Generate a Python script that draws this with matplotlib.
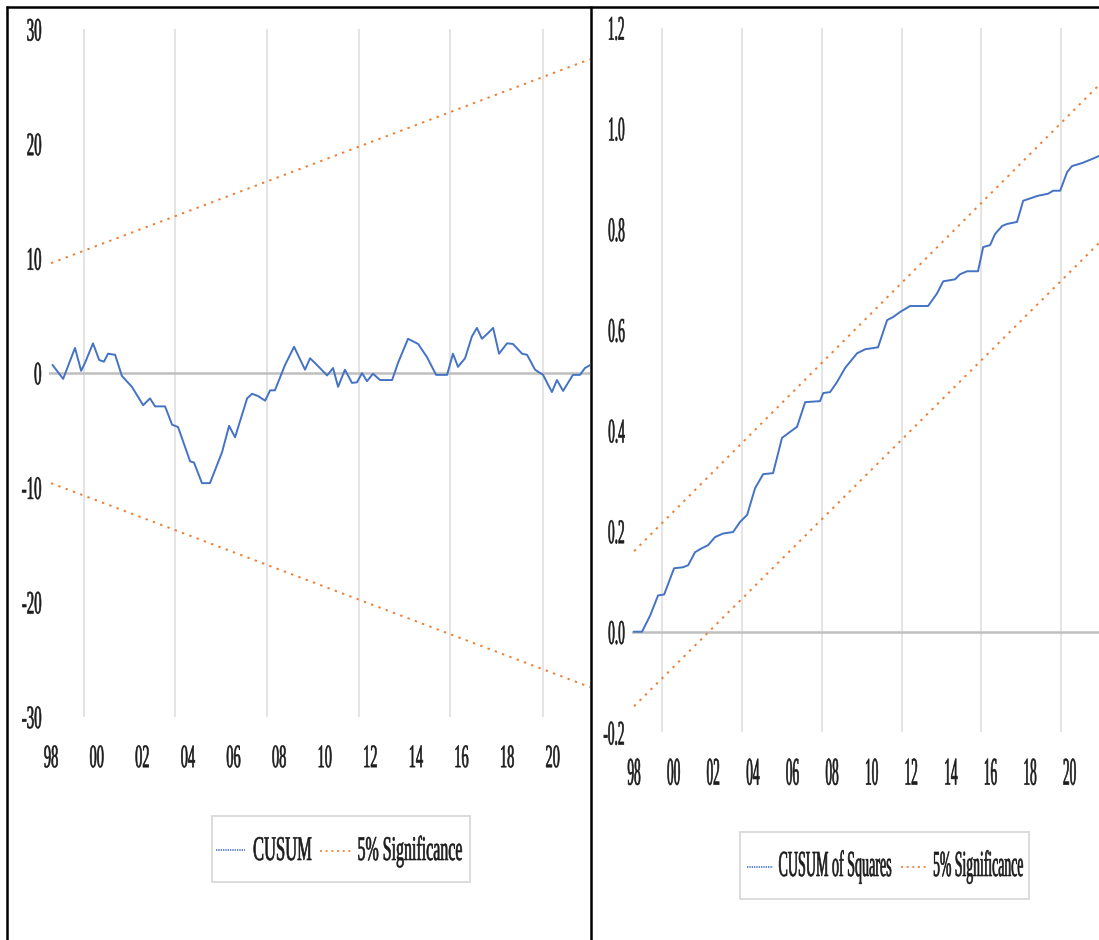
import matplotlib
matplotlib.use("Agg")
import matplotlib.pyplot as plt
from matplotlib.patheffects import AbstractPathEffect
from matplotlib.transforms import Affine2D
from matplotlib.lines import Line2D
from matplotlib.patches import Rectangle

# ---------------- data ----------------
year_ticks = [1998, 2000, 2002, 2004, 2006, 2008, 2010, 2012, 2014, 2016, 2018, 2020]
year_labels = ["98", "00", "02", "04", "06", "08", "10", "12", "14", "16", "18", "20"]
grid_years = [1999.43, 2003.45, 2007.47, 2011.51, 2015.5, 2019.56]

cusum_years = [1998.07, 1998.53, 1999.05, 1999.32, 1999.49, 1999.84, 2000.11, 2000.32,
               2000.50, 2000.81, 2001.11, 2001.55, 2002.04, 2002.34, 2002.56, 2003.00,
               2003.31, 2003.57, 2004.10, 2004.27, 2004.62, 2004.97, 2005.50, 2005.81,
               2006.07, 2006.60, 2006.82, 2007.08, 2007.39, 2007.61, 2007.82, 2008.26,
               2008.66, 2009.14, 2009.36, 2009.67, 2010.11, 2010.37, 2010.59, 2010.89,
               2011.20, 2011.42, 2011.64, 2011.86, 2012.12, 2012.43, 2012.96, 2013.22,
               2013.66, 2014.10, 2014.49, 2014.89, 2015.37, 2015.63, 2015.85, 2016.16,
               2016.46, 2016.68, 2016.90, 2017.17, 2017.39, 2017.65, 2018.00, 2018.26,
               2018.66, 2018.88, 2019.23, 2019.58, 2019.97, 2020.19, 2020.46, 2020.89,
               2021.20, 2021.42, 2021.64]
cusum_values = [0.7, -0.5, 2.2, 0.2, 0.9, 2.6, 1.15, 1.0,
                1.7, 1.6, -0.25, -1.2, -2.8, -2.2, -2.9, -2.9,
                -4.5, -4.7, -7.7, -7.8, -9.6, -9.6, -6.9, -4.6,
                -5.6, -2.2, -1.8, -2.0, -2.4, -1.5, -1.5, 0.7,
                2.3, 0.3, 1.3, 0.7, -0.2, 0.45, -1.2, 0.3,
                -0.85, -0.8, 0.0, -0.7, -0.05, -0.6, -0.6, 0.9,
                3.0, 2.55, 1.4, -0.15, -0.15, 1.7, 0.55, 1.3,
                3.2, 3.95, 3.0, 3.5, 3.95, 1.7, 2.6, 2.55,
                1.7, 1.6, 0.3, -0.15, -1.65, -0.6, -1.55, -0.15,
                -0.15, 0.45, 0.7]
cusum_sig_years = [1998.0, 2021.64]
cusum_sig_upper = [9.6, 27.4]
cusum_sig_lower = [-9.6, -27.4]

cusumsq_years = [1998.00, 1998.40, 1998.81, 1999.21, 1999.52, 2000.02, 2000.47, 2000.73,
                 2001.08, 2001.43, 2001.74, 2002.09, 2002.49, 2003.00, 2003.35, 2003.71,
                 2004.11, 2004.52, 2005.02, 2005.47, 2005.88, 2006.23, 2006.64, 2007.39,
                 2007.55, 2007.90, 2008.25, 2008.66, 2009.26, 2009.67, 2010.32, 2010.78,
                 2011.08, 2011.43, 2011.94, 2012.85, 2013.30, 2013.61, 2014.21, 2014.46,
                 2014.82, 2015.37, 2015.63, 2015.98, 2016.23, 2016.59, 2016.84, 2017.34,
                 2017.65, 2018.10, 2018.40, 2018.91, 2019.16, 2019.52, 2019.87, 2020.12,
                 2020.63, 2021.13, 2021.48]
cusumsq_values = [0.000, 0.000, 0.032, 0.072, 0.074, 0.126, 0.128, 0.132,
                  0.158, 0.166, 0.172, 0.188, 0.195, 0.198, 0.218, 0.232,
                  0.285, 0.313, 0.315, 0.385, 0.397, 0.407, 0.456, 0.458,
                  0.474, 0.476, 0.496, 0.524, 0.553, 0.561, 0.565, 0.619,
                  0.625, 0.635, 0.647, 0.647, 0.672, 0.696, 0.700, 0.710,
                  0.716, 0.716, 0.764, 0.768, 0.790, 0.806, 0.810, 0.814,
                  0.856, 0.862, 0.866, 0.870, 0.876, 0.876, 0.913, 0.925,
                  0.931, 0.939, 0.945]
cusumsq_sig_years = [1998.0, 2021.48]
cusumsq_sig_upper = [0.160, 1.086]
cusumsq_sig_lower = [-0.148, 0.772]

left_yticks = [-30, -20, -10, 0, 10, 20, 30]
left_ylabels = ["-30", "-20", "-10", "0", "10", "20", "30"]
left_ygrid = [-20, -10, 10, 20]
right_yticks = [-0.2, 0.0, 0.2, 0.4, 0.6, 0.8, 1.0, 1.2]
right_ylabels = ["-0.2", "0.0", "0.2", "0.4", "0.6", "0.8", "1.0", "1.2"]
right_ygrid = [0.2, 0.4, 0.6, 0.8, 1.0]

legend_left = ["CUSUM", "5% Significance"]
legend_right = ["CUSUM of Squares", "5% Significance"]

# ---------------- style ----------------
BLUE = "#4472C4"
ORANGE = "#ED7D31"
GRID = "#DCDCDC"
ZERO = "#BFBFBF"
TXT = "#1c1c1c"

plt.rcParams["font.family"] = ["Liberation Serif", "DejaVu Serif"]

W, H = 1099, 940
fig = plt.figure(figsize=(W / 100, H / 100), dpi=100)
fig.patch.set_facecolor("white")


class TallText(AbstractPathEffect):
    """Draw text glyphs stretched (tall, condensed look); text stays a text object."""

    def __init__(self, sx, sy, hanchor="center", vanchor="baseline", stroke=0.45):
        super().__init__((0.0, 0.0))
        self.sx, self.sy = sx, sy
        self.hanchor, self.vanchor = hanchor, vanchor
        self.stroke = stroke

    def draw_path(self, renderer, gc, tpath, affine, rgbFace=None):
        ext = tpath.get_extents()
        cx = {"right": ext.x1, "left": ext.x0}.get(self.hanchor, 0.5 * (ext.x0 + ext.x1))
        cy = {"top": ext.y1, "center": 0.5 * (ext.y0 + ext.y1)}.get(self.vanchor, 0.0)
        t = Affine2D().translate(-cx, -cy).scale(self.sx, self.sy).translate(cx, cy)
        renderer.draw_path(gc, tpath, t + affine, rgbFace)
        if self.stroke and rgbFace is not None:
            gc0 = renderer.new_gc()
            gc0.copy_properties(gc)
            gc0.set_linewidth(self.stroke)
            gc0.set_foreground(rgbFace)
            renderer.draw_path(gc0, tpath, t + affine, None)
            gc0.restore()


def px_rect(x0, y0, x1, y1):
    return [x0 / W, 1 - y1 / H, (x1 - x0) / W, (y1 - y0) / H]


def style_axes(ax, xlim, ylim, yticks, ylabels, ygrid, xfont, xpad, yfont, ypad):
    ax.set_xlim(*xlim)
    ax.set_ylim(*ylim)
    ax.set_xticks(year_ticks, year_labels)
    ax.set_xticks(grid_years, minor=True)
    ax.set_yticks(yticks, ylabels)
    ax.set_yticks(ygrid, minor=True)
    ax.grid(False)
    ax.grid(True, which="minor", axis="both", color=GRID, linewidth=1.1)
    ax.tick_params(which="both", length=0)
    ax.tick_params(axis="x", which="major", pad=xpad, labelsize=xfont[0], labelcolor=TXT)
    ax.tick_params(axis="y", which="major", pad=ypad, labelsize=yfont[0], labelcolor=TXT)
    for s in ax.spines.values():
        s.set_visible(False)
    ax.set_facecolor("none")
    ax.set_axisbelow(True)
    for lab in ax.get_xticklabels():
        lab.set_path_effects([TallText(xfont[1], xfont[2], "center", "top")])
    for lab in ax.get_yticklabels():
        lab.set_path_effects([TallText(yfont[1], yfont[2], "right", "center")])
    ax.axhline(0, color=ZERO, linewidth=1.8, zorder=1.5)


# ---------------- left panel: CUSUM ----------------
axL = fig.add_axes(px_rect(49, 29.4, 590, 716.9))
style_axes(axL, (1997.91, 2021.64), (-30, 30), left_yticks, left_ylabels, left_ygrid,
           (12.2, 0.85, 1.93), 20.0, (12.2, 0.88, 1.93), 5.4)
axL.plot(cusum_years, cusum_values, color=BLUE, linewidth=1.4, zorder=3)
axL.plot(cusum_sig_years, cusum_sig_upper, color=ORANGE, linewidth=1.4,
         dashes=(1.2, 2.8), zorder=3)
axL.plot(cusum_sig_years, cusum_sig_lower, color=ORANGE, linewidth=1.4,
         dashes=(1.2, 2.8), zorder=3)

# ---------------- right panel: CUSUM of Squares ----------------
axR = fig.add_axes(px_rect(632.3, 27.6, 1099, 732.4))
style_axes(axR, (1997.91, 2021.48), (-0.2, 1.2), right_yticks, right_ylabels, right_ygrid,
           (11.3, 0.85, 2.5), 17.7, (11.3, 0.85, 2.2), 5.3)
axR.plot(cusumsq_years, cusumsq_values, color=BLUE, linewidth=1.4, zorder=3)
axR.plot(cusumsq_sig_years, cusumsq_sig_upper, color=ORANGE, linewidth=1.4,
         dashes=(1.2, 2.8), zorder=3)
axR.plot(cusumsq_sig_years, cusumsq_sig_lower, color=ORANGE, linewidth=1.4,
         dashes=(1.2, 2.8), zorder=3)


# ---------------- legends (drawn in figure pixel space) ----------------
def fx(x):
    return x / W


def fy(y):
    return 1 - y / H


def legend_box(x0, y0, x1, y1):
    fig.add_artist(Rectangle((fx(x0), fy(y1)), fx(x1) - fx(x0), fy(y0) - fy(y1),
                             transform=fig.transFigure, facecolor="white",
                             edgecolor="#D9D9D9", linewidth=1.3))


def legend_handle(x0, x1, y, color, dashes):
    fig.add_artist(Line2D([fx(v) for v in (x0, x1)], [fy(y), fy(y)],
                          transform=fig.transFigure, color=color, linewidth=1.2,
                          dashes=dashes))


def legend_text(xc, ybase, s, size, sx, sy):
    t = fig.text(fx(xc), fy(ybase), s, ha="center", va="baseline", fontsize=size,
                 color=TXT)
    t.set_path_effects([TallText(sx, sy, "center", "baseline")])


legend_box(212, 816, 470, 882)
legend_handle(216, 245, 850, BLUE, (0.8, 0.6))
legend_text(282.5, 860, legend_left[0], 14, 0.85, 1.78)
legend_handle(320, 351, 851, ORANGE, (1.2, 2.2))
legend_text(410, 860, legend_left[1], 14, 0.82, 1.78)

legend_box(740, 832, 1029, 899)
legend_handle(747, 773, 867, BLUE, (0.8, 0.6))
legend_text(835, 876, legend_right[0], 11.9, 0.85, 2.22)
legend_handle(901, 927, 867, ORANGE, (1.2, 2.2))
legend_text(978, 876, legend_right[1], 11.9, 0.83, 2.22)

# ---------------- panel frames ----------------
for xs, ys in [([6, 1099], [7, 7]), ([7, 7], [6, 940]), ([590.5, 590.5], [6, 940])]:
    fig.add_artist(Line2D([fx(v) for v in xs], [fy(v) for v in ys],
                          transform=fig.transFigure, color="black", linewidth=1.8,
                          solid_capstyle="butt"))

fig.savefig("out.png", dpi=100, facecolor="white")
